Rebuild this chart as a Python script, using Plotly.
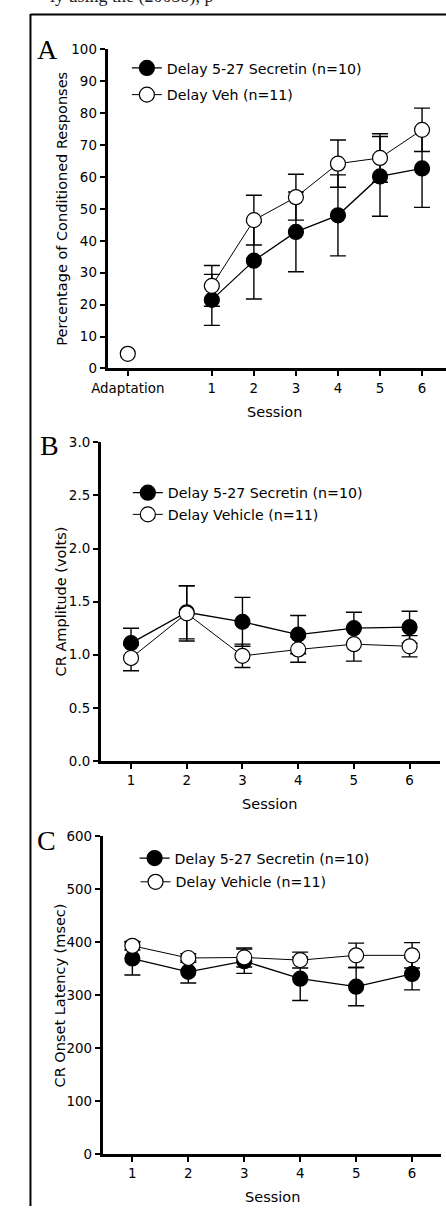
import plotly.graph_objects as go

W, H = 446, 1214

# ---------------- data ----------------
sessions = [1, 2, 3, 4, 5, 6]
session_labels = ["1", "2", "3", "4", "5", "6"]
adapt_label = "Adaptation"
adapt_pos = -1

A_sec = [21.5, 33.8, 42.8, 48.0, 60.2, 62.7]
A_sec_sem = [8.0, 12.0, 12.5, 12.7, 12.5, 12.2]
A_veh = [25.9, 46.5, 53.7, 64.2, 66.0, 74.8]
A_veh_sem = [6.4, 7.8, 7.2, 7.4, 7.6, 6.8]
A_adapt_veh = [4.6]

B_sec = [1.11, 1.40, 1.31, 1.19, 1.25, 1.26]
B_sec_sem = [0.14, 0.25, 0.23, 0.18, 0.15, 0.15]
B_veh = [0.97, 1.39, 0.99, 1.05, 1.10, 1.08]
B_veh_sem = [0.12, 0.26, 0.11, 0.12, 0.16, 0.10]

C_sec = [369, 344, 364, 331, 316, 340]
C_sec_sem = [31, 21, 23, 41, 36, 30]
C_veh = [393, 370, 371, 366, 375, 375]
C_veh_sem = [8, 8, 18, 15, 23, 24]

A_names = ["Delay 5-27 Secretin (n=10)", "Delay Veh (n=11)"]
BC_names = ["Delay 5-27 Secretin (n=10)", "Delay Vehicle (n=11)"]

# ---------------- helpers ----------------
def px(x):
    return x / W

def py(y):
    return 1 - y / H

FONT = "DejaVu Sans, Arial, sans-serif"
SERIF = "Liberation Serif, DejaVu Serif, serif"
MS = 15

fig = go.Figure()

def add_pair(xa, ya, sec, sec_sem, veh, veh_sem, names, leg1, leg2):
    fig.add_trace(go.Scatter(
        x=sessions, y=sec, mode="lines+markers", name=names[0],
        xaxis=xa, yaxis=ya, legend=leg1,
        line=dict(color="black", width=1.3),
        marker=dict(size=MS, color="black", line=dict(color="black", width=1.2)),
        error_y=dict(type="data", array=sec_sem, visible=True, color="black",
                     thickness=1.4, width=8),
    ))
    fig.add_trace(go.Scatter(
        x=sessions, y=veh, mode="lines+markers", name=names[1],
        xaxis=xa, yaxis=ya, legend=leg2,
        line=dict(color="black", width=1.0),
        marker=dict(size=MS, color="white", line=dict(color="black", width=1.2)),
        error_y=dict(type="data", array=veh_sem, visible=True, color="black",
                     thickness=1.4, width=8),
    ))

add_pair("x", "y", A_sec, A_sec_sem, A_veh, A_veh_sem, A_names, "legend", "legend2")
fig.add_trace(go.Scatter(
    x=[adapt_pos], y=A_adapt_veh, mode="markers", showlegend=False,
    xaxis="x", yaxis="y",
    marker=dict(size=MS, color="white", line=dict(color="black", width=1.2)),
))
add_pair("x2", "y2", B_sec, B_sec_sem, B_veh, B_veh_sem, BC_names, "legend3", "legend4")
add_pair("x3", "y3", C_sec, C_sec_sem, C_veh, C_veh_sem, BC_names, "legend5", "legend6")

axis_common = dict(
    showline=True, linecolor="black", linewidth=3, showgrid=False, zeroline=False,
    ticks="outside", ticklen=5, tickwidth=2, tickcolor="black",
    tickfont=dict(family=FONT, size=13.4, color="black"),
)

fig.update_layout(
    width=W, height=H, margin=dict(l=0, r=0, t=0, b=0),
    paper_bgcolor="white", plot_bgcolor="white",
    font=dict(family=FONT, color="black"),
    # Panel A
    xaxis=dict(axis_common, domain=[px(95), 1.0], range=[-1.48, 6.57],
               tickvals=[adapt_pos] + sessions, ticktext=[adapt_label] + session_labels,
               anchor="y"),
    yaxis=dict(axis_common, domain=[py(366), py(43)], range=[0, 100],
               tickvals=list(range(0, 101, 10)), anchor="x"),
    # Panel B
    xaxis2=dict(axis_common, domain=[px(88), px(440)], range=[0.458, 6.55],
                tickvals=sessions, ticktext=session_labels, anchor="y2"),
    yaxis2=dict(axis_common, domain=[py(763.5), py(440.7)], range=[0, 3.0],
                tickvals=[0, 0.5, 1.0, 1.5, 2.0, 2.5, 3.0], tickformat=".1f", anchor="x2"),
    # Panel C
    xaxis3=dict(axis_common, domain=[px(90), px(441)], range=[0.471, 6.52],
                tickvals=sessions, ticktext=session_labels, anchor="y3"),
    yaxis3=dict(axis_common, domain=[py(1161.7), py(839.3)], range=[0, 600],
                tickvals=list(range(0, 601, 100)), anchor="x3"),
)

leg_common = dict(font=dict(family=FONT, size=14.2, color="black"),
                  bgcolor="rgba(0,0,0,0)", borderwidth=0,
                  xanchor="left", yanchor="middle")
fig.update_layout(
    legend=dict(leg_common, x=px(115), y=py(62)),
    legend2=dict(leg_common, x=px(115), y=py(89)),
    legend3=dict(leg_common, x=px(116), y=py(492)),
    legend4=dict(leg_common, x=px(116), y=py(514)),
    legend5=dict(leg_common, x=px(123), y=py(862)),
    legend6=dict(leg_common, x=px(124), y=py(886)),
)

# axis titles and panel letters
ann = []
def ytitle(text, x, y):
    ann.append(dict(text=text, x=px(x), y=py(y), xref="paper", yref="paper",
                    textangle=-90, showarrow=False, xanchor="center", yanchor="middle",
                    font=dict(family=FONT, size=14.5, color="black")))
def xtitle(text, x, y):
    ann.append(dict(text=text, x=px(x), y=py(y), xref="paper", yref="paper",
                    showarrow=False, xanchor="center", yanchor="middle",
                    font=dict(family=FONT, size=14.5, color="black")))
def letter(text, x, y):
    ann.append(dict(text=text, x=px(x), y=py(y), xref="paper", yref="paper",
                    showarrow=False, xanchor="center", yanchor="middle",
                    font=dict(family=SERIF, size=28, color="black")))

ytitle("Percentage of Conditioned Responses", 47.5, 204.5)
ytitle("CR Amplitude (volts)", 46.5, 602)
ytitle("CR Onset Latency (msec)", 46, 1000.5)
xtitle("Session", 268, 410)
xtitle("Session", 263, 807)
xtitle("Session", 266, 1205)
letter("A", 33, 43)
letter("B", 35, 444)
letter("C", 32, 844)
# cut-off line of body text at the very top of the scan (only descenders visible)
ann.append(dict(text="ly using the (2003b), p", x=px(33), y=py(-11), xref="paper", yref="paper",
                showarrow=False, xanchor="left", yanchor="middle",
                font=dict(family=SERIF, size=18, color="#222")))
fig.update_layout(annotations=ann)

# figure border of the scanned panel
fig.update_layout(shapes=[
    dict(type="line", xref="paper", yref="paper", x0=px(15), x1=1.0, y0=py(7.5), y1=py(7.5),
         line=dict(color="black", width=2)),
    dict(type="line", xref="paper", yref="paper", x0=px(15), x1=px(15), y0=py(7), y1=0,
         line=dict(color="black", width=2)),
])

fig.write_html("out.html",
               post_script="document.body.style.margin='0';document.body.style.padding='0';")
